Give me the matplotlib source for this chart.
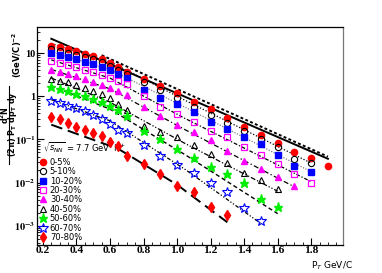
import numpy as np
import matplotlib
matplotlib.use('Agg')
import matplotlib.pyplot as plt
from matplotlib.lines import Line2D
from matplotlib.ticker import FixedLocator, NullFormatter

# pT bins (GeV/c)
pt = [0.25, 0.30, 0.35, 0.40, 0.45, 0.50, 0.55, 0.60, 0.65, 0.70,
      0.8, 0.9, 1.0, 1.1, 1.2, 1.3, 1.4, 1.5, 1.6, 1.7, 1.8, 1.9]

centralities = ['0-5%', '5-10%', '10-20%', '20-30%', '30-40%',
                '40-50%', '50-60%', '60-70%', '70-80%']

# log10 of the yields
logy_0_5 = [1.17, 1.13, 1.09, 1.04, 0.98, 0.92, 0.86, 0.77, 0.67, 0.57,
            0.39, 0.23, 0.07, -0.14, -0.30, -0.51, -0.71, -0.90, -1.08, -1.29, -1.43, -1.61]
logy_5_10 = [1.09, 1.05, 1.01, 0.96, 0.91, 0.85, 0.79, 0.70, 0.61, 0.52,
             0.32, 0.14, -0.05, -0.25, -0.44, -0.62, -0.80, -1.00, -1.18, -1.45, -1.54]
logy_10_20 = [1.00, 0.96, 0.91, 0.85, 0.79, 0.74, 0.67, 0.61, 0.52, 0.42,
              0.15, -0.05, -0.18, -0.37, -0.59, -0.77, -0.94, -1.10, -1.36, -1.61, -1.76]
logy_20_30 = [0.81, 0.77, 0.73, 0.67, 0.61, 0.56, 0.49, 0.43, 0.36, 0.29,
              0.00, -0.24, -0.42, -0.60, -0.81, -0.95, -1.17, -1.36, -1.56, -1.80, -2.00]
logy_30_40 = [0.60, 0.56, 0.52, 0.46, 0.40, 0.33, 0.27, 0.20, 0.11, 0.02,
              -0.25, -0.47, -0.67, -0.84, -1.01, -1.26, -1.49, -1.68, -1.86, -2.07]
logy_40_50 = [0.40, 0.36, 0.32, 0.26, 0.20, 0.12, 0.05, -0.05, -0.18, -0.32,
              -0.68, -0.82, -0.95, -1.13, -1.33, -1.54, -1.77, -1.95, -2.14]
logy_50_60 = [0.21, 0.16, 0.11, 0.06, 0.00, -0.07, -0.14, -0.22, -0.32, -0.45,
              -0.80, -1.00, -1.22, -1.43, -1.63, -1.80, -2.02, -2.37, -2.57]
logy_60_70 = [-0.12, -0.16, -0.22, -0.27, -0.35, -0.44, -0.52, -0.64, -0.78, -0.86,
              -1.13, -1.38, -1.60, -1.78, -2.00, -2.23, -2.58, -2.88]
logy_70_80 = [-0.48, -0.53, -0.62, -0.72, -0.78, -0.85, -0.92, -1.06, -1.15, -1.38,
              -1.58, -1.80, -2.08, -2.22, -2.56, -2.76]

all_logy = [logy_0_5, logy_5_10, logy_10_20, logy_20_30, logy_30_40,
            logy_40_50, logy_50_60, logy_60_70, logy_70_80]

# fit curves: pT nodes and log10 values
fit_pt = [[0.25, 1.9], [0.55, 1.9], [0.25, 0.6, 1.05, 1.8], [0.25, 0.6, 1.05, 1.8],
          [0.25, 0.6, 1.05, 1.8], [0.25, 0.6, 1.05, 1.7], [0.25, 0.6, 1.05, 1.6],
          [0.25, 0.6, 1.05, 1.6], [0.25, 0.6, 1.05, 1.5], [0.25, 0.65, 1.0, 1.3]]
fit_logy = [[1.33, -1.45], [0.95, -1.40], [1.22, 0.80, -0.10, -1.55], [1.03, 0.62, -0.26, -1.75],
            [0.84, 0.42, -0.52, -1.98], [0.62, 0.17, -0.78, -2.10], [0.42, -0.14, -1.10, -2.20],
            [0.24, -0.30, -1.36, -2.72], [-0.08, -0.57, -1.70, -2.95], [-0.66, -1.22, -2.05, -2.92]]

fit_styles = [dict(color='black', lw=1.4, ls='-'),
              dict(color='black', lw=1.4, ls=(0, (1.5, 1.2))),
              dict(color='black', lw=0.9, ls=(0, (1, 1.5))),
              dict(color='gray', lw=0.9, ls=(0, (1, 1.2))),
              dict(color='black', lw=0.9, ls=(0, (3, 1.5, 1, 1.5))),
              dict(color='black', lw=0.9, ls=(0, (4, 2, 1, 2))),
              dict(color='black', lw=0.9, ls=(0, (4, 1.5, 1, 1.5, 1, 1.5))),
              dict(color='black', lw=1.0, ls=(0, (3, 2))),
              dict(color='black', lw=0.9, ls=(0, (3, 1.5, 1, 1.5, 1, 1.5))),
              dict(color='black', lw=1.4, ls=(0, (6, 3)))]

marker_styles = [dict(marker='o', mfc='red', mec='red', ms=4.5),
                 dict(marker='o', mfc='none', mec='black', ms=4.5, mew=0.8),
                 dict(marker='s', mfc='blue', mec='blue', ms=4.2),
                 dict(marker='s', mfc='none', mec='magenta', ms=4.5, mew=0.9),
                 dict(marker='^', mfc='magenta', mec='magenta', ms=4.5),
                 dict(marker='^', mfc='none', mec='black', ms=4.8, mew=0.8),
                 dict(marker='*', mfc='#00ee00', mec='#00ee00', ms=6.5),
                 dict(marker='*', mfc='none', mec='blue', ms=7.5, mew=0.8),
                 dict(marker='d', mfc='red', mec='red', ms=5)]

fig = plt.figure(figsize=(3.82, 2.73), dpi=100)
ax = fig.add_axes([0.097, 0.103, 0.801, 0.798])

for xs, ls_, st in zip(fit_pt, fit_logy, fit_styles):
    ax.plot(xs, 10.0 ** np.array(ls_), zorder=3, **st)

handles = []
for lab, ly, ms in zip(centralities, all_logy, marker_styles):
    h, = ax.plot(pt[:len(ly)], 10.0 ** np.array(ly), ls='none', label=lab, zorder=4, **ms)
    handles.append(h)

ax.set_yscale('log')
ax.set_xlim(0.165, 1.99)
ax.set_ylim(3.6e-4, 40)

tick_font = dict(family='Liberation Serif', weight='bold', size=8.2)
xt = [0.2, 0.4, 0.6, 0.8, 1.0, 1.2, 1.4, 1.6, 1.8]
xt_labels = ['0.2', '0.4', '0.6', '0.8', '1.0', '1.2', '1.4', '1.6', '1.8']
ax.set_xticks(xt)
ax.set_xticklabels(xt_labels, fontdict=tick_font)
ax.xaxis.set_minor_locator(FixedLocator(np.arange(0.2, 2.0, 0.05)))
yt = [1e-3, 1e-2, 1e-1, 1, 10]
yt_labels = [r'$\mathbf{10^{-3}}$', r'$\mathbf{10^{-2}}$', r'$\mathbf{10^{-1}}$', '1', '10']
ax.set_yticks(yt)
ax.set_yticklabels(yt_labels, fontdict=dict(tick_font, size=7.4))
for t in ax.get_yticklabels():
    t.set_math_fontfamily('stix')
ax.yaxis.set_minor_formatter(NullFormatter())
ax.tick_params(which='both', direction='in', top=False, right=False)
ax.tick_params(which='major', length=5, width=0.8, pad=1.0)
ax.tick_params(which='minor', length=2.5, width=0.6)
for sp in ax.spines.values():
    sp.set_linewidth(0.9)
ax.spines['right'].set_color('#777777')

leg = ax.legend(handles=handles, loc='lower left', bbox_to_anchor=(-0.01, -0.01),
                frameon=False, fontsize=6, handlelength=1.0, handletextpad=0.3,
                labelspacing=0.05, borderaxespad=0.2)
ax.text(0.02, 0.45, r'$\sqrt{s_{NN}}$ = 7.7 GeV  K$^{+}$', transform=ax.transAxes,
        fontsize=6, va='center', ha='left')

# y axis title written as a stacked fraction, rotated
lab_kw = dict(rotation=90, ha='center', va='center', fontweight='bold', fontsize=5.8)
fig.text(0.012, 0.58, r'd$^{\mathbf{2}}$N', **lab_kw)
fig.add_artist(Line2D([0.024, 0.024], [0.40, 0.685], transform=fig.transFigure,
                      color='black', lw=0.8))
fig.text(0.034, 0.545, r'(2$\mathbf{\pi}$) P$_{\mathbf{T}}$ dp$_{\mathbf{T}}$ dy', **lab_kw)
fig.text(0.045, 0.80, r'(GeV/C)$^{\mathbf{-2}}$', **dict(lab_kw, fontsize=6.0))

fig.text(0.815, 0.028, r'P$_T$ GeV/C', fontsize=6.5, ha='left', va='center')

fig.savefig('out.png', dpi=100)
